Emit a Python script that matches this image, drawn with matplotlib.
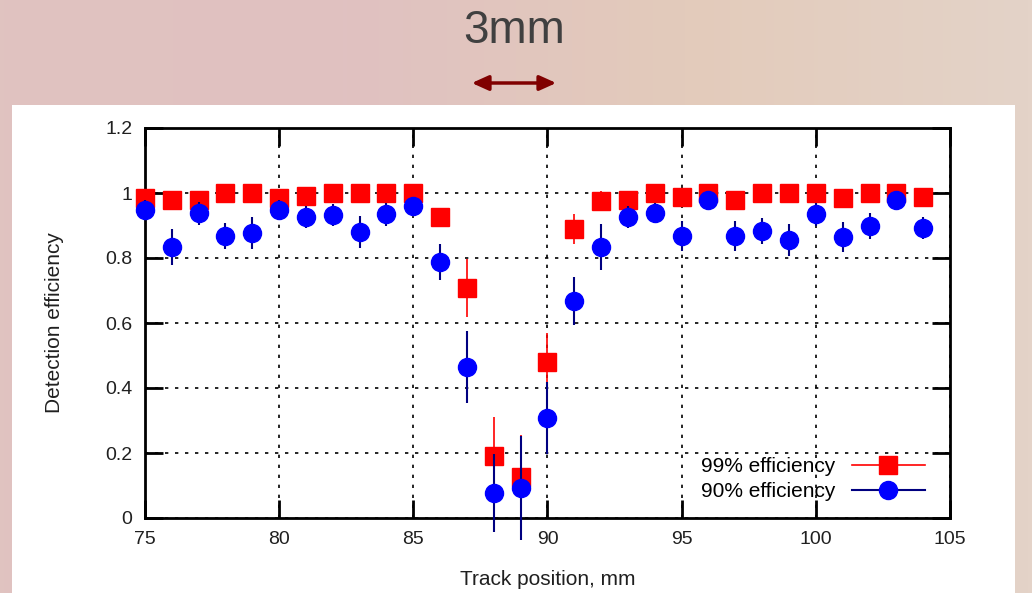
import numpy as np
import matplotlib
matplotlib.use("Agg")
import matplotlib.pyplot as plt
from matplotlib.patches import Rectangle, FancyArrowPatch
from matplotlib.lines import Line2D

# track positions, mm
pos = list(range(75, 105))

# 99% efficiency threshold
eff99 = [0.985, 0.98, 0.98, 1.0, 1.0, 0.985, 0.99, 1.0, 1.0, 1.0,
         1.0, 0.926, 0.708, 0.19, 0.126, 0.48, 0.889, 0.975, 0.98, 1.0,
         0.988, 1.0, 0.98, 1.0, 1.0, 1.0, 0.985, 1.0, 1.0, 0.988]
err99 = [0.01, 0.01, 0.01, 0.005, 0.005, 0.01, 0.01, 0.005, 0.005, 0.005,
         0.005, 0.02, 0.09, 0.12, 0.13, 0.09, 0.045, 0.03, 0.015, 0.005,
         0.01, 0.005, 0.01, 0.005, 0.005, 0.005, 0.01, 0.005, 0.005, 0.01]

# 90% efficiency threshold
eff90 = [0.948, 0.834, 0.938, 0.868, 0.877, 0.948, 0.926, 0.932, 0.88, 0.935,
         0.96, 0.788, 0.465, 0.077, 0.092, 0.308, 0.668, 0.834, 0.926, 0.938,
         0.868, 0.98, 0.868, 0.883, 0.855, 0.935, 0.865, 0.9, 0.98, 0.892]
err90 = [0.03, 0.055, 0.035, 0.04, 0.05, 0.03, 0.035, 0.035, 0.05, 0.035,
         0.025, 0.055, 0.11, 0.12, 0.16, 0.11, 0.075, 0.07, 0.035, 0.03,
         0.045, 0.02, 0.045, 0.04, 0.05, 0.035, 0.045, 0.04, 0.02, 0.035]

plt.rcParams["font.family"] = ["Liberation Sans", "DejaVu Sans"]

fig = plt.figure(figsize=(10.32, 5.93), dpi=100)

# slide-like gradient background
grad = np.linspace(0, 1, 256)[None, :]
bg = fig.add_axes([0, 0, 1, 1], zorder=-10)
bg.imshow(grad, aspect="auto", extent=[0, 1, 0, 1],
          cmap=matplotlib.colors.LinearSegmentedColormap.from_list(
              "bg", ["#e0c3c0", "#e0c1c1", "#e3cbbb", "#e4d3c8"]))
bg.set_xlim(0, 1)
bg.set_ylim(0, 1)
bg.axis("off")
bg.add_patch(Rectangle((12 / 1032, 0), (1015 - 12) / 1032, 1 - 105 / 593,
                       facecolor="white", edgecolor="none"))
bg.text(514 / 1032, 1 - 31 / 593, "3mm", ha="center", va="center",
        fontsize=33, color="#404040")
bg.add_patch(FancyArrowPatch((469 / 1032, 1 - 83 / 593), (559 / 1032, 1 - 83 / 593),
                             arrowstyle="<|-|>,head_length=10,head_width=4.5",
                             color="#800000", lw=2.5, mutation_scale=1))

ax = fig.add_axes([145 / 1032, 1 - 518 / 593, 805 / 1032, 390 / 593])
ax.errorbar(pos, eff99, yerr=err99, fmt="s", color="#ff0000", ecolor="#ff0000",
            markersize=13, elinewidth=1.2, capsize=0, zorder=3, clip_on=False)
ax.errorbar(pos, eff90, yerr=err90, fmt="o", color="#0000ff", ecolor="#000080",
            markersize=13, elinewidth=1.5, capsize=0, zorder=4, clip_on=False)

ax.set_xlim(75, 105)
ax.set_ylim(0, 1.2)
ax.set_xticks(range(75, 106, 5))
ax.set_yticks([0, 0.2, 0.4, 0.6, 0.8, 1.0, 1.2])
ax.set_yticklabels(["0", "0.2", "0.4", "0.6", "0.8", "1", "1.2"])
ax.grid(True, color="black", linestyle=(0, (2, 4)), linewidth=1.2)
ax.set_axisbelow(True)
ax.tick_params(direction="in", length=13, width=2, labelsize=14,
               top=True, right=True, pad=9, colors="black", labelcolor="#202020")
for s in ax.spines.values():
    s.set_linewidth(2)
ax.set_xlabel("Track position, mm", fontsize=15, labelpad=16, color="#202020")
ax.set_ylabel("Detection efficiency", fontsize=15, labelpad=30, color="#202020")

handles = [
    Line2D([], [], color="#ff0000", lw=1.2, marker="s", markersize=13),
    Line2D([], [], color="#000080", lw=1.5, marker="o", markersize=13,
           markerfacecolor="#0000ff", markeredgecolor="#0000ff"),
]
ax.legend(handles, ["99% efficiency", "90% efficiency"], loc="lower right",
          frameon=False, markerfirst=False, fontsize=15, handlelength=3.5,
          handletextpad=0.8, labelspacing=0.3, borderaxespad=0,
          bbox_to_anchor=(0.979, 0.022))

fig.savefig("out.png", dpi=100)
